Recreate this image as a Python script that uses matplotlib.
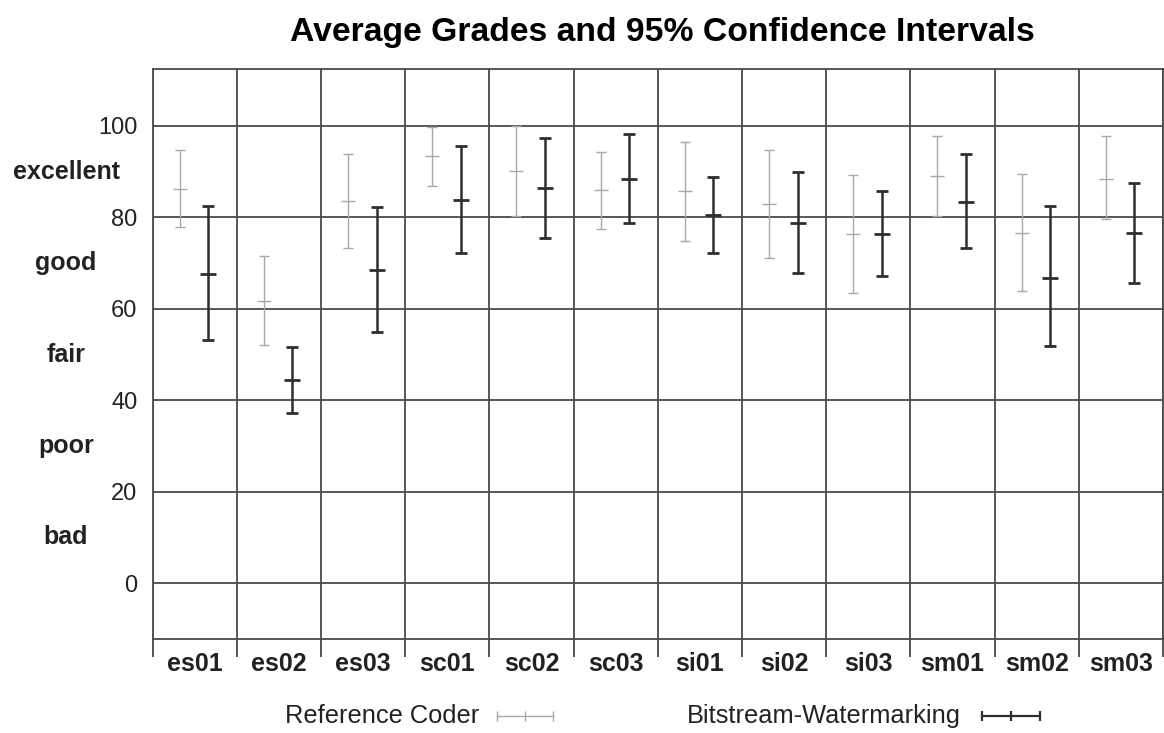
import matplotlib
matplotlib.use('Agg')
import matplotlib.pyplot as plt
from matplotlib.lines import Line2D
import matplotlib.transforms as mtransforms
import numpy as np

plt.rcParams['font.family'] = ['Liberation Sans', 'DejaVu Sans']

categories = ['es01', 'es02', 'es03', 'sc01', 'sc02', 'sc03',
              'si01', 'si02', 'si03', 'sm01', 'sm02', 'sm03']
ref_mean = [86.3, 61.8, 83.5, 93.4, 90.2, 86.0, 85.7, 82.9, 76.3, 89.0, 76.5, 88.5]
ref_low = [77.9, 52.0, 73.3, 86.9, 80.2, 77.5, 74.9, 71.2, 63.4, 80.3, 64.0, 79.6]
ref_high = [94.7, 71.6, 93.8, 99.8, 100.0, 94.2, 96.4, 94.8, 89.3, 97.7, 89.5, 97.7]
bw_mean = [67.7, 44.5, 68.4, 83.9, 86.4, 88.4, 80.6, 78.8, 76.3, 83.4, 66.8, 76.6]
bw_low = [53.1, 37.2, 54.9, 72.3, 75.4, 78.8, 72.1, 67.8, 67.2, 73.2, 51.8, 65.7]
bw_high = [82.4, 51.7, 82.2, 95.7, 97.4, 98.3, 88.9, 90.0, 85.7, 93.8, 82.5, 87.5]
y_ticks = [0, 20, 40, 60, 80, 100]
quality_labels = ['excellent', 'good', 'fair', 'poor', 'bad']
quality_pos = [90, 70, 50, 30, 10]
series_names = ['Reference Coder', 'Bitstream-Watermarking']

REF_COLOR = '#a8a8a8'
BW_COLOR = '#2e2e2e'
GRID_COLOR = '#4a4a4a'

fig = plt.figure(figsize=(11.64, 7.33), dpi=100)
ax = fig.add_axes([0.1312, 0.1278, 0.8679, 0.7777])

x = np.arange(len(categories))
rm = np.array(ref_mean); rl = np.array(ref_low); rh = np.array(ref_high)
bm = np.array(bw_mean); bl = np.array(bw_low); bh = np.array(bw_high)

ax.errorbar(x - 0.18, rm, yerr=[rm - rl, rh - rm], fmt='_', ms=10, mew=1.0,
            color=REF_COLOR, ecolor=REF_COLOR, elinewidth=1.0, capsize=3.5,
            capthick=1.0, zorder=3)
ax.errorbar(x + 0.16, bm, yerr=[bm - bl, bh - bm], fmt='_', ms=12, mew=2.0,
            color=BW_COLOR, ecolor=BW_COLOR, elinewidth=1.8, capsize=4,
            capthick=1.8, zorder=3)

ax.set_xlim(-0.5, len(categories) - 0.5)
ax.set_ylim(-12.3, 112.4)

ax.set_yticks(y_ticks)
ax.set_yticklabels([str(v) for v in y_ticks], fontsize=17, color='#222222')
ax.tick_params(axis='y', length=0, pad=11)

ax.set_xticks(x)
ax.set_xticklabels(categories, fontsize=18, fontweight='bold', color='#222222')
ax.set_xticks(np.arange(len(categories) + 1) - 0.5, minor=True)
ax.tick_params(axis='x', which='major', length=0, pad=9)
ax.tick_params(axis='x', which='minor', length=13, width=1.3,
               color=GRID_COLOR, direction='out')

ax.grid(True, axis='y', which='major', color=GRID_COLOR, linewidth=1.3, zorder=1)
ax.grid(True, axis='x', which='minor', color=GRID_COLOR, linewidth=1.3, zorder=1)
ax.set_axisbelow(True)
for s in ax.spines.values():
    s.set_color(GRID_COLOR)
    s.set_linewidth(1.3)

trans = mtransforms.blended_transform_factory(ax.transAxes, ax.transData)
for lab, pos in zip(quality_labels, quality_pos):
    ax.text(-0.0858, pos, lab, transform=trans, ha='center', va='center',
            fontsize=18, fontweight='bold', color='#222222')

fig.text(0.569, 0.956, 'Average Grades and 95% Confidence Intervals',
         ha='center', va='center', fontsize=24.3, fontweight='bold', color='black')

# legend
def legend_sample(x0, x1, y, color, lw):
    fig.add_artist(Line2D([x0, x1], [y, y], transform=fig.transFigure,
                          color=color, lw=lw))
    fig.add_artist(Line2D([x0, (x0 + x1) / 2, x1], [y, y, y],
                          transform=fig.transFigure, color=color, lw=0,
                          marker='|', ms=7, mew=lw))

ly = 0.0232
fig.text(0.2448, ly, series_names[0], ha='left', va='center', fontsize=18.3,
         color='#222222')
legend_sample(0.427, 0.475, ly, REF_COLOR, 1.0)
fig.text(0.590, ly, series_names[1], ha='left', va='center', fontsize=18.3,
         color='#222222')
legend_sample(0.8436, 0.8935, ly, BW_COLOR, 1.6)

fig.savefig('out.png', dpi=100, facecolor='white')
